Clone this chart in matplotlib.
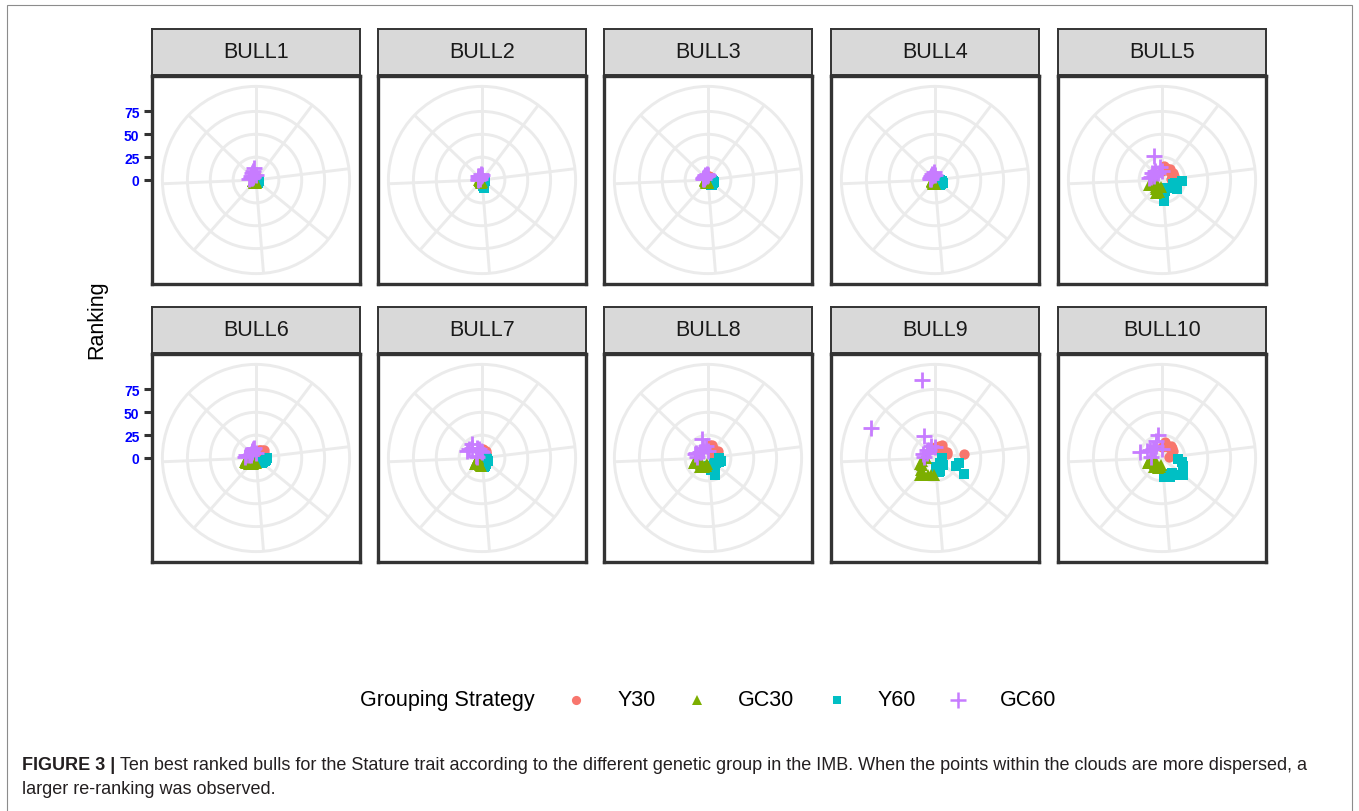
import numpy as np
import matplotlib
matplotlib.use("Agg")
import matplotlib.pyplot as plt
from matplotlib.lines import Line2D
from matplotlib.patches import Rectangle

# ---------------------------------------------------------------- data
bulls = ["BULL1", "BULL2", "BULL3", "BULL4", "BULL5",
         "BULL6", "BULL7", "BULL8", "BULL9", "BULL10"]

strategies = ["Y30", "GC30", "Y60", "GC60"]
strategy_colors = ["#F8766D", "#7CAE00", "#00BFC4", "#C77CFF"]

# ranking of each bull in the ten runs of every grouping strategy
rank_y30 = [
    [2, 1, 3, 2, 2, 1, 2, 3, 2, 2],
    [1, 1, 1, 2, 1, 1, 1, 1, 2, 1],
    [4, 3, 5, 3, 4, 3, 3, 2, 2, 2],
    [3, 4, 3, 4, 3, 2, 3, 2, 2, 2],
    [10, 15, 14, 13, 15, 12, 14, 13, 14, 10],
    [6, 8, 9, 10, 11, 12, 10, 9, 8, 6],
    [9, 10, 8, 9, 7, 6, 5, 4, 3, 3],
    [10, 14, 15, 12, 11, 10, 13, 9, 8, 6],
    [12, 10, 14, 16, 13, 10, 12, 15, 14, 32],
    [12, 18, 14, 13, 16, 15, 14, 12, 10, 8],
]
rank_y60 = [
    [3, 2, 4, 3, 2, 3, 4, 3, 2, 3],
    [3, 2, 3, 2, 3, 4, 5, 6, 9, 7],
    [4, 6, 7, 6, 5, 7, 6, 5, 4, 3],
    [5, 8, 9, 8, 7, 8, 6, 5, 4, 4],
    [22, 15, 13, 19, 14, 12, 10, 9, 12, 23],
    [12, 11, 10, 9, 8, 7, 6, 5, 4, 4],
    [4, 6, 5, 7, 6, 5, 8, 9, 10, 8],
    [12, 15, 13, 10, 9, 11, 12, 20, 14, 9],
    [8, 27, 25, 36, 12, 8, 10, 15, 16, 10],
    [18, 22, 24, 26, 29, 25, 20, 22, 18, 21],
]
rank_gc30 = [
    [3, 2, 3, 4, 3, 2, 3, 4, 3, 2],
    [2, 3, 2, 3, 2, 2, 3, 2, 2, 3],
    [3, 2, 3, 4, 3, 2, 3, 2, 3, 3],
    [4, 3, 5, 4, 3, 3, 4, 3, 3, 2],
    [8, 14, 16, 12, 10, 8, 9, 15, 10, 8],
    [5, 6, 7, 8, 9, 10, 12, 13, 11, 9],
    [9, 8, 7, 6, 9, 10, 8, 6, 5, 4],
    [7, 9, 11, 12, 13, 10, 11, 16, 14, 10],
    [19, 19, 20, 22, 25, 20, 16, 18, 14, 10],
    [8, 10, 12, 11, 13, 10, 12, 16, 14, 9],
]
rank_gc60 = [
    [8, 6, 5, 7, 5, 6, 9, 10, 13, 6],
    [4, 5, 3, 4, 6, 5, 4, 5, 7, 6],
    [5, 4, 6, 5, 4, 5, 6, 5, 7, 5],
    [5, 4, 6, 5, 6, 5, 7, 6, 9, 5],
    [14, 12, 10, 13, 11, 12, 9, 28, 14, 10],
    [12, 11, 8, 6, 7, 8, 9, 10, 11, 6],
    [6, 7, 18, 17, 15, 19, 12, 10, 8, 7],
    [12, 15, 14, 11, 10, 9, 12, 22, 13, 8],
    [12, 14, 77, 10, 12, 11, 27, 14, 86, 12],
    [12, 25, 18, 16, 14, 12, 15, 20, 26, 10],
]

# rows of each facet are ordered Y30, Y60, GC30, GC60 (index 1..40)
row_blocks = [("Y30", rank_y30), ("Y60", rank_y60),
              ("GC30", rank_gc30), ("GC60", rank_gc60)]

rank_breaks = [0, 25, 50, 75]
index_breaks = [5, 10, 15, 20, 25, 30, 35, 40]
index_range = (1, 40)
rank_range = (0, 91)

# ---------------------------------------------------------------- style
W, H = 1359, 812
fig = plt.figure(figsize=(W / 100, H / 100), dpi=100)
fig.patch.set_facecolor("white")

FONT = ["Liberation Sans", "DejaVu Sans"]
plt.rcParams["font.family"] = FONT

grid_col = "#EBEBEB"
grid_lw = 2.1
frame_col = "#333333"
marker_style = {
    "Y30": dict(marker="o", ms=7.4, mew=0),
    "GC30": dict(marker="^", ms=8.4, mew=0),
    "Y60": dict(marker="s", ms=7.0, mew=0),
    "GC60": dict(marker="+", ms=12, mew=2.0),
}
legend_style = {
    "Y30": dict(marker="o", ms=6.6, mew=0),
    "GC30": dict(marker="^", ms=7.6, mew=0),
    "Y60": dict(marker="s", ms=6.4, mew=0),
    "GC60": dict(marker="+", ms=11, mew=1.8),
}
col_of = dict(zip(strategies, strategy_colors))


def fx(px):
    return px / W


def fy(py):
    return 1 - py / H


def theta_of(idx):
    lo, hi = index_range
    return 2 * np.pi * (np.asarray(idx, float) - lo) / (hi - lo)


col_left = [152, 378, 604, 831, 1058]
panel_top = [77, 355]
PW = 208
STRIP_H = 46

r_lo, r_hi = rank_range
half_span = (r_hi - r_lo) * 0.5 / 0.4
r_outer = r_lo + (r_hi - r_lo) * 0.45 / 0.4

for b, name in enumerate(bulls):
    row, col = divmod(b, 5)
    left = col_left[col]
    top = panel_top[row]
    rect = [fx(left), fy(top + PW), PW / W, PW / H]

    # panel frame with the radial axis labels
    fr = fig.add_axes(rect)
    fr.set_facecolor("white")
    fr.set_xlim(-half_span, half_span)
    fr.set_ylim(r_lo - half_span, r_lo + half_span)
    fr.set_xticks([])
    for sp in fr.spines.values():
        sp.set_color(frame_col)
        sp.set_linewidth(2.4)
    if col == 0:
        fr.set_yticks(rank_breaks)
        fr.set_yticklabels([str(v) for v in rank_breaks], color="#0000FF",
                           fontweight="bold", fontsize=10)
        fr.tick_params(axis="y", length=6, width=2.2, color=frame_col, pad=3)
    else:
        fr.set_yticks([])

    # strip
    st = fig.add_axes([fx(left), fy(top - 1), PW / W, STRIP_H / H])
    st.set_facecolor("#D9D9D9")
    st.set_xticks([])
    st.set_yticks([])
    for sp in st.spines.values():
        sp.set_color(frame_col)
        sp.set_linewidth(1.4)
    st.text(0.5, 0.5, name, ha="center", va="center", fontsize=15.5,
            color="#1A1A1A", transform=st.transAxes)

    # polar plotting region (radius 0.45 of panel)
    d = 0.9 * PW
    pa = fig.add_axes([fx(left + (PW - d) / 2), fy(top + (PW + d) / 2), d / W, d / H],
                      projection="polar")
    pa.patch.set_alpha(0)
    pa.set_theta_zero_location("N")
    pa.set_theta_direction(-1)
    pa.set_ylim(r_lo, r_outer)
    pa.set_xticks(theta_of(index_breaks))
    pa.set_yticks(rank_breaks[1:])
    pa.set_xticklabels([])
    pa.set_yticklabels([])
    pa.tick_params(length=0)
    pa.grid(True, color=grid_col, lw=grid_lw)
    pa.spines["polar"].set_color(grid_col)
    pa.spines["polar"].set_linewidth(grid_lw)

    start = 1
    for strat, table in row_blocks:
        vals = table[b]
        idx = np.arange(start, start + len(vals))
        start += len(vals)
        for i, v in zip(idx, vals):
            pa.plot(theta_of(i), v, linestyle="none", color=col_of[strat],
                    clip_on=False, **marker_style[strat])

# axis title
fig.text(fx(97), fy(320), "Ranking", rotation=90, ha="center", va="center",
         fontsize=15.5, color="black")

# legend
ly = fy(701)
fig.text(fx(360), ly, "Grouping Strategy", ha="left", va="center",
         fontsize=15.5, color="black")
key_x = [576, 697, 837, 958]
lab_x = [618, 738, 878, 1000]
for strat, kx, tx in zip(strategies, key_x, lab_x):
    fig.add_artist(Line2D([fx(kx)], [ly], transform=fig.transFigure,
                          linestyle="none", color=col_of[strat],
                          **legend_style[strat]))
    fig.text(fx(tx), ly, strat, ha="left", va="center", fontsize=15.5,
             color="black")

# outer frame of the figure
fig.add_artist(Rectangle((fx(7), fy(830)), (1352 - 7) / W, (830 - 6) / H,
                         transform=fig.transFigure, fill=False,
                         edgecolor="#8C8C8C", lw=0.8))

# caption
cap_font = ["Liberation Sans", "DejaVu Sans"]
cap_size = 13.0
renderer = fig.canvas.get_renderer()
head = fig.text(fx(22), fy(766), "FIGURE 3 |", ha="left", va="center",
                fontsize=cap_size, fontweight="bold", family=cap_font, color="#231F20")
bb = head.get_window_extent(renderer)
fig.text(bb.x1 / W + fx(5), fy(766),
         "Ten best ranked bulls for the Stature trait according to the different "
         "genetic group in the IMB. When the points within the clouds are more dispersed, a",
         ha="left", va="center", fontsize=cap_size, family=cap_font, color="#231F20")
fig.text(fx(22), fy(790), "larger re-ranking was observed.", ha="left",
         va="center", fontsize=cap_size, family=cap_font, color="#231F20")

fig.savefig("out.png", dpi=100)
